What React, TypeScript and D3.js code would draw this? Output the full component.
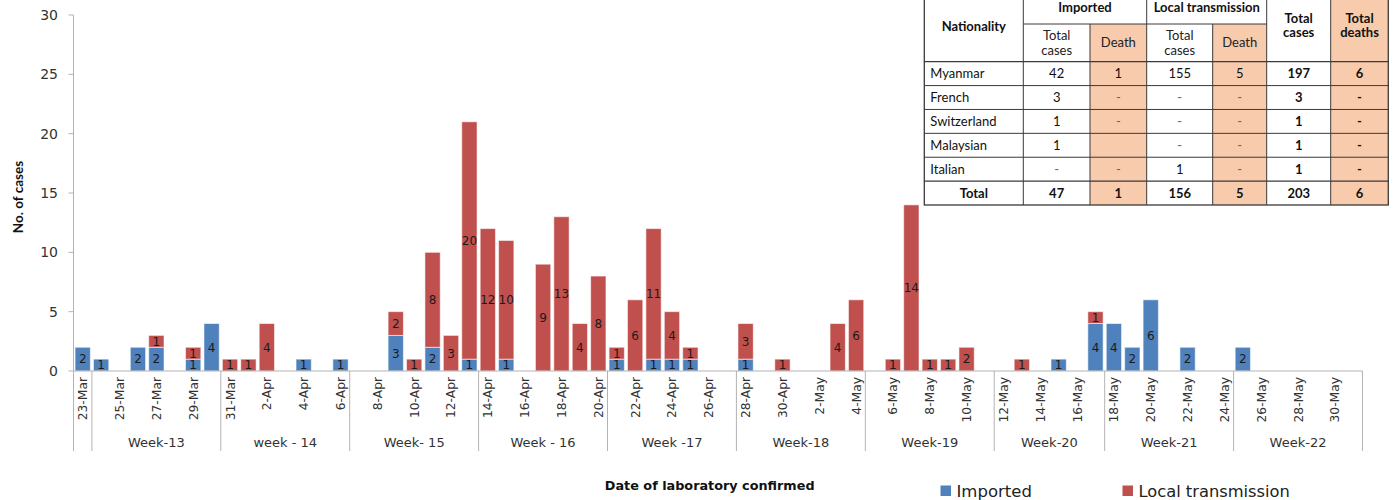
import React from 'react';
import * as d3 from 'd3';

// ---- data ----
// one category per day, 23-Mar to 31-May
const days = d3.timeDay.range(new Date(2020, 2, 23), new Date(2020, 5, 1));
const fmtDay = d3.timeFormat('%-d-%b');

const weekLabels = ['', 'Week-13', 'week - 14', 'Week- 15', 'Week - 16', 'Week -17', 'Week-18', 'Week-19', 'Week-20', 'Week-21', 'Week-22'];
const weekLengths = [1, 7, 7, 7, 7, 7, 7, 7, 6, 7, 7];

const imported = [
  2,
  1, 0, 2, 2, 0, 1, 4,
  0, 0, 0, 0, 1, 0, 1,
  0, 0, 3, 0, 2, 0, 1,
  0, 1, 0, 0, 0, 0, 0,
  1, 0, 1, 1, 1, 0, 0,
  1, 0, 0, 0, 0, 0, 0,
  0, 0, 0, 0, 0, 0, 0,
  0, 0, 0, 1, 0, 4,
  4, 2, 6, 0, 2, 0, 0,
  2, 0, 0, 0, 0, 0, 0,
];
const local = [
  0,
  0, 0, 0, 1, 0, 1, 0,
  1, 1, 4, 0, 0, 0, 0,
  0, 0, 2, 1, 8, 3, 20,
  12, 10, 0, 9, 13, 4, 8,
  1, 6, 11, 4, 1, 0, 0,
  3, 0, 1, 0, 0, 4, 6,
  0, 1, 14, 1, 1, 2, 0,
  0, 1, 0, 0, 0, 1,
  0, 0, 0, 0, 0, 0, 0,
  0, 0, 0, 0, 0, 0, 0,
];
const yTicks = [0, 5, 10, 15, 20, 25, 30];

const tableHead = ['Nationality', 'Imported', 'Local transmission', 'Total cases', 'Total deaths'];
const tableRows = [
  ['Myanmar', '42', '1', '155', '5', '197', '6'],
  ['French', '3', '-', '-', '-', '3', '-'],
  ['Switzerland', '1', '-', '-', '-', '1', '-'],
  ['Malaysian', '1', '', '-', '-', '1', '-'],
  ['Italian', '-', '-', '1', '-', '1', '-'],
  ['Total', '47', '1', '156', '5', '203', '6'],
];

const BLUE = '#4F81BD';
const RED = '#C0504D';
const PEACH = '#F8CBAD';
const SANS = "'DejaVu Sans', Verdana, sans-serif";
const CAL = "Lato, 'Open Sans', sans-serif";

const W = 1394;
const H = 500;
const x0 = 73.5;
const x1 = 1362.5;
const yBase = 371;
const axisBottom = 451;

const App = () => {
  const keys = days.map((d) => fmtDay(d));
  const x = d3.scaleBand<string>().domain(keys).range([x0, x1]).paddingInner(0.17).paddingOuter(0.085);
  const y = d3.scaleLinear().domain([0, 30]).range([yBase, 15]);
  const step = x.step();
  const edge = (i: number) => x0 + i * step;

  // group boundaries
  const bounds: number[] = [0];
  weekLengths.forEach((n) => bounds.push(bounds[bounds.length - 1] + n));

  // table geometry
  const colX = [924.3, 1023.3, 1090, 1146.7, 1212.7, 1266.7, 1330.7, 1388.3];
  const tTop = -9, tSub = 24, tHead = 61.7, tBottom = 205;
  const rowY = d3.scaleBand<number>().domain(d3.range(tableRows.length)).range([tHead, tBottom]);
  const lineC = '#3a3a3a';

  return (
    <svg width={W} height={H} style={{ position: 'absolute', left: 0, top: 0, background: '#fff' }}>
      {/* y axis */}
      <line x1={x0} y1={15} x2={x0} y2={axisBottom} stroke="#b3b3b3" />
      {yTicks.map((t) => (
        <g key={t}>
          <line x1={x0 - 5} x2={x0} y1={y(t)} y2={y(t)} stroke="#b3b3b3" />
          <text x={58} y={y(t)} dy="0.35em" textAnchor="end" fontFamily={SANS} fontSize={14} fill="#333">{t}</text>
        </g>
      ))}
      <text transform="translate(23,197) rotate(-90)" textAnchor="middle" fontFamily={CAL} fontWeight="bold" fontSize={13.5} fill="#111">No. of cases</text>

      {/* bars */}
      {keys.map((k, i) => {
        const bx = x(k)!;
        const bw = x.bandwidth();
        const a = imported[i];
        const b = local[i];
        return (
          <g key={k}>
            {a > 0 && <rect x={bx} y={y(a)} width={bw} height={y(0) - y(a)} fill={BLUE} stroke="rgba(255,255,255,0.55)" strokeWidth={1} />}
            {b > 0 && <rect x={bx} y={y(a + b)} width={bw} height={y(a) - y(a + b)} fill={RED} stroke="rgba(255,255,255,0.55)" strokeWidth={1} />}
            {a > 0 && <text x={bx + bw / 2} y={(y(0) + y(a)) / 2} dy="0.36em" textAnchor="middle" fontFamily={SANS} fontSize={12} fill="#1a1a1a">{a}</text>}
            {b > 0 && <text x={bx + bw / 2} y={(y(a) + y(a + b)) / 2} dy="0.36em" textAnchor="middle" fontFamily={SANS} fontSize={12} fill="#1a1a1a">{b}</text>}
          </g>
        );
      })}

      {/* x axis */}
      <line x1={x0} x2={x1} y1={yBase} y2={yBase} stroke="#b3b3b3" />
      {bounds.map((bi) => (
        <line key={bi} x1={edge(bi)} x2={edge(bi)} y1={yBase} y2={axisBottom} stroke="#b3b3b3" />
      ))}
      {keys.map((k, i) => i % 2 === 0 && (
        <text key={k} transform={`translate(${x(k)! + x.bandwidth() / 2 + 4.5},377) rotate(-90)`} textAnchor="end" fontFamily={SANS} fontSize={12.3} fill="#333">{k}</text>
      ))}
      {weekLabels.map((w, gi) => w && (
        <text key={w} x={(edge(bounds[gi]) + edge(bounds[gi + 1])) / 2} y={447} textAnchor="middle" fontFamily={SANS} fontSize={13} fill="#333">{w}</text>
      ))}
      <text x={709.7} y={489.5} textAnchor="middle" fontFamily={SANS} fontWeight="bold" fontSize={12.8} fill="#111">Date of laboratory confirmed</text>

      {/* legend */}
      <rect x={940.5} y={485.5} width={10.5} height={10.5} fill={BLUE} />
      <text x={956.5} y={496.5} fontFamily={SANS} fontSize={16.5} fill="#222">Imported</text>
      <rect x={1122.5} y={485.5} width={10.5} height={10.5} fill={RED} />
      <text x={1138.5} y={496.5} fontFamily={SANS} fontSize={16.3} fill="#222">Local transmission</text>

      {/* summary table */}
      <g fontFamily={CAL} fontSize={13} fill="#111">
        <rect x={colX[0]} y={tTop} width={colX[7] - colX[0]} height={tBottom - tTop} fill="#fff" />
        <rect x={colX[2]} y={tSub} width={colX[3] - colX[2]} height={tBottom - tSub} fill={PEACH} />
        <rect x={colX[4]} y={tSub} width={colX[5] - colX[4]} height={tBottom - tSub} fill={PEACH} />
        <rect x={colX[6]} y={tTop} width={colX[7] - colX[6]} height={tBottom - tTop} fill={PEACH} />

        {/* header */}
        <text x={(colX[0] + colX[1]) / 2} y={(tTop + tHead) / 2} dy="0.35em" textAnchor="middle" fontWeight="bold">{tableHead[0]}</text>
        <text x={(colX[1] + colX[3]) / 2} y={(tTop + tSub) / 2} dy="0.35em" textAnchor="middle" fontWeight="bold">{tableHead[1]}</text>
        <text x={(colX[3] + colX[5]) / 2} y={(tTop + tSub) / 2} dy="0.35em" textAnchor="middle" fontWeight="bold">{tableHead[2]}</text>
        {[5, 6].map((c) => (
          <text key={c} x={(colX[c] + colX[c + 1]) / 2} y={(tTop + tHead) / 2} textAnchor="middle" fontWeight="bold">
            <tspan x={(colX[c] + colX[c + 1]) / 2} dy="-0.25em">{tableHead[c - 2].split(' ')[0]}</tspan>
            <tspan x={(colX[c] + colX[c + 1]) / 2} dy="1.1em">{tableHead[c - 2].split(' ')[1]}</tspan>
          </text>
        ))}
        {[1, 3].map((c) => (
          <text key={c} x={(colX[c] + colX[c + 1]) / 2} y={(tSub + tHead) / 2} textAnchor="middle" fill="#222">
            <tspan x={(colX[c] + colX[c + 1]) / 2} dy="-0.25em">Total</tspan>
            <tspan x={(colX[c] + colX[c + 1]) / 2} dy="1.2em">cases</tspan>
          </text>
        ))}
        {[2, 4].map((c) => (
          <text key={c} x={(colX[c] + colX[c + 1]) / 2} y={(tSub + tHead) / 2} dy="0.35em" textAnchor="middle" fill="#222">Death</text>
        ))}

        {/* body */}
        {tableRows.map((row, ri) => {
          const cy = rowY(ri)! + rowY.bandwidth() / 2;
          const isTotal = ri === tableRows.length - 1;
          return (
            <g key={row[0]}>
              {row.map((v, ci) => {
                const bold = isTotal || ci >= 5;
                const cx = ci === 0 && !isTotal ? colX[0] + 6 : (colX[ci] + colX[ci + 1]) / 2;
                return (
                  <text key={ci} x={cx} y={cy} dy="0.35em" textAnchor={ci === 0 && !isTotal ? 'start' : 'middle'}
                    fontWeight={bold ? 'bold' : 'normal'} fill={v === '-' && !bold ? '#666' : '#111'}>{v}</text>
                );
              })}
            </g>
          );
        })}

        {/* grid lines */}
        <g stroke={lineC} strokeWidth={1} fill="none">
          <rect x={colX[0]} y={tTop} width={colX[7] - colX[0]} height={tBottom - tTop} strokeWidth={1.3} />
          {[1, 3, 5, 6].map((c) => <line key={c} x1={colX[c]} x2={colX[c]} y1={tTop} y2={tBottom} />)}
          {[2, 4].map((c) => <line key={c} x1={colX[c]} x2={colX[c]} y1={tSub} y2={tBottom} />)}
          <line x1={colX[1]} x2={colX[5]} y1={tSub} y2={tSub} />
          {d3.range(tableRows.length).map((ri) => (
            <line key={ri} x1={colX[0]} x2={colX[7]} y1={rowY(ri)!} y2={rowY(ri)!} strokeWidth={ri === tableRows.length - 1 || ri === 0 ? 1.3 : 1} />
          ))}
        </g>
      </g>
    </svg>
  );
};

export default App;
